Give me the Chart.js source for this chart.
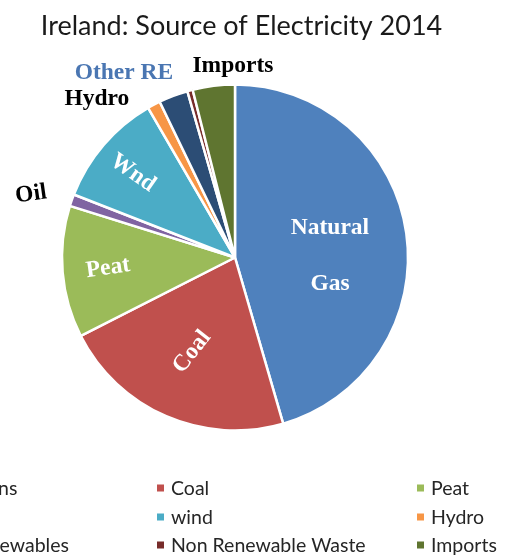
<!DOCTYPE html>
<html>
<head>
<meta charset="utf-8">
<title>Ireland: Source of Electricity 2014</title>
<script src="https://cdn.jsdelivr.net/npm/chart.js@4.4.1/dist/chart.umd.min.js"></script>
<style>
  html, body { margin: 0; padding: 0; background: #ffffff; overflow: hidden; }
  canvas { display: block; }
</style>
</head>
<body>
<canvas id="chart" width="510" height="556"></canvas>
<script>
// Share of electricity generation by source, Ireland 2014 (%)
const categories = ['Gas Stations', 'Coal', 'Peat', 'Oil', 'wind', 'Hydro',
                    'Other Renewables', 'Non Renewable Waste', 'Imports'];
const shares = [45.1, 21.8, 12.2, 1.1, 10.6, 1.2, 2.7, 0.5, 3.9];
const sliceColors = ['#4f81bd', '#c0504d', '#9bbb59', '#8064a2', '#4bacc6',
                     '#f79646', '#2c4d75', '#772c2a', '#5f7530'];

const titleText = 'Ireland: Source of Electricity 2014';

// Annotations placed on / around the pie, positioned relative to centre in units of radius
const annotations = [
  { text: 'Natural', fx: 0.549, fy: -0.173, rot: 0,   color: '#ffffff' },
  { text: 'Gas',     fx: 0.549, fy: 0.150,  rot: 0,   color: '#ffffff' },
  { text: 'Coal',    fx: -0.249, fy: 0.546, rot: -52, color: '#ffffff' },
  { text: 'Peat',    fx: -0.734, fy: 0.061, rot: -8,  color: '#ffffff' },
  { text: 'Wnd',     fx: -0.590, fy: -0.488, rot: 35, color: '#ffffff' },
  { text: 'Oil',     fx: -1.179, fy: -0.365, rot: -8, color: '#000000' },
  { text: 'Hydro',   fx: -0.798, fy: -0.919, rot: 0,  color: '#000000' },
  { text: 'Other RE', fx: -0.642, fy: -1.069, rot: 0, color: '#4a76b2' },
  { text: 'Imports', fx: -0.012, fy: -1.107, rot: 0,  color: '#000000' }
];

const annotationPlugin = {
  id: 'sliceAnnotations',
  afterDatasetsDraw(chart) {
    const arc = chart.getDatasetMeta(0).data[0];
    if (!arc) return;
    const cx = arc.x, cy = arc.y, R = arc.outerRadius;
    const ctx = chart.ctx;
    ctx.save();
    ctx.font = 'bold 23.5px "Liberation Serif", "Times New Roman", serif';
    ctx.textAlign = 'center';
    ctx.textBaseline = 'middle';
    annotations.forEach(a => {
      ctx.save();
      ctx.translate(cx + a.fx * R, cy + a.fy * R);
      ctx.rotate(a.rot * Math.PI / 180);
      ctx.fillStyle = a.color;
      ctx.fillText(a.text, 0, 0);
      ctx.restore();
    });
    ctx.restore();
  }
};

// Title and three-column legend drawn beneath the pie
const framePlugin = {
  id: 'frame',
  afterDraw(chart) {
    const ctx = chart.ctx;
    ctx.save();
    ctx.fillStyle = '#1a1a1a';
    ctx.font = '27px Lato, "Open Sans", sans-serif';
    ctx.textAlign = 'center';
    ctx.textBaseline = 'alphabetic';
    ctx.fillText(titleText, 241.5, 35);

    const colX = [-103, 157, 417];
    const rowY = [488, 517, 545];
    ctx.font = '19.5px Lato, "Open Sans", sans-serif';
    ctx.textAlign = 'left';
    ctx.textBaseline = 'middle';
    categories.forEach((label, i) => {
      const x = colX[i % 3], y = rowY[Math.floor(i / 3)];
      ctx.fillStyle = sliceColors[i];
      ctx.fillRect(x, y - 3.5, 7, 7);
      ctx.fillStyle = '#262626';
      ctx.fillText(label, x + 14, y + 1);
    });
    ctx.restore();
  }
};

new Chart(document.getElementById('chart'), {
  type: 'pie',
  data: {
    labels: categories,
    datasets: [{
      data: shares,
      backgroundColor: sliceColors,
      borderColor: '#ffffff',
      borderWidth: 2.5,
      hoverOffset: 0,
      radius: 173
    }]
  },
  options: {
    responsive: false,
    animation: false,
    devicePixelRatio: 1,
    layout: { padding: { left: 62, right: 102, top: 84, bottom: 125 } },
    plugins: {
      legend: { display: false },
      title: { display: false },
      tooltip: { enabled: false }
    }
  },
  plugins: [annotationPlugin, framePlugin]
});
</script>
</body>
</html>
